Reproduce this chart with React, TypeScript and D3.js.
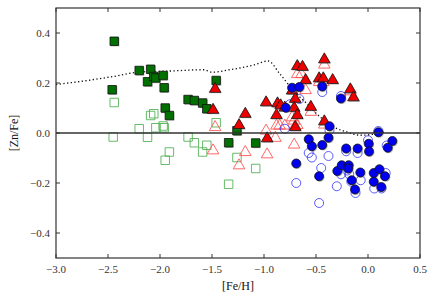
import * as d3 from 'd3';

// [Fe/H], [Zn/Fe]
const greenFilled: [number, number][] = [
  [-2.44, 0.367], [-2.46, 0.173], [-2.2, 0.25], [-2.09, 0.255], [-2.12, 0.205],
  [-2.06, 0.226], [-2.04, 0.22], [-1.97, 0.23], [-1.96, 0.181], [-1.95, 0.1],
  [-1.91, 0.07], [-1.73, 0.134], [-1.67, 0.13], [-1.59, 0.12], [-1.55, 0.097],
  [-1.46, 0.21], [-1.34, -0.039], [-1.26, 0.009], [-1.08, -0.04],
];
const greenOpen: [number, number][] = [
  [-2.44, 0.122], [-2.45, -0.016], [-2.2, 0.017], [-2.12, -0.017], [-2.09, 0.07],
  [-2.06, 0.077], [-2.04, 0.021], [-1.97, 0.028], [-1.96, 0.021], [-1.95, -0.109],
  [-1.91, -0.076], [-1.73, -0.016], [-1.67, -0.039], [-1.59, -0.076], [-1.55, -0.049],
  [-1.46, 0.041], [-1.34, -0.205], [-1.26, -0.098], [-1.08, -0.142],
];
const redFilled: [number, number][] = [
  [-1.47, 0.18], [-1.49, 0.096], [-1.24, 0.035], [-1.18, 0.08], [-0.98, 0.126],
  [-0.97, -0.018], [-0.88, 0.075], [-0.87, 0.122], [-0.84, 0.114], [-0.8, 0.105],
  [-0.73, 0.173], [-0.7, 0.14], [-0.71, 0.104], [-0.7, 0.027], [-0.68, 0.075],
  [-0.68, 0.271], [-0.63, 0.268], [-0.6, 0.215], [-0.47, 0.222], [-0.43, 0.222],
  [-0.42, 0.298], [-0.34, 0.215], [-0.42, 0.05], [-0.55, 0.108], [-0.17, 0.178],
  [-0.14, 0.146],
];
const redOpen: [number, number][] = [
  [-1.47, 0.027], [-1.49, -0.066], [-1.24, -0.126], [-1.18, -0.073], [-0.98, 0.013],
  [-0.97, -0.082], [-0.89, -0.016], [-0.88, 0.033], [-0.85, 0.033], [-0.8, 0.033],
  [-0.73, 0.066], [-0.71, 0.053], [-0.7, 0.031], [-0.71, -0.043], [-0.68, 0.035],
  [-0.68, 0.239], [-0.64, 0.239], [-0.6, 0.175], [-0.47, 0.207], [-0.43, 0.207],
  [-0.42, 0.277], [-0.42, 0.037], [-0.55, 0.088], [-0.17, 0.17],
];
const blueFilled: [number, number][] = [
  [-0.73, 0.181], [-0.66, 0.184], [-0.79, 0.101], [-0.44, 0.186], [-0.26, 0.138],
  [0.1, 0.003], [-0.37, 0.027], [-0.38, -0.019], [-0.57, -0.025], [-0.54, -0.053],
  [-0.44, -0.048], [-0.69, -0.122], [-0.47, -0.173], [-0.295, -0.152], [-0.253, -0.129],
  [-0.186, -0.129], [-0.19, -0.142], [-0.157, -0.189], [-0.125, -0.226], [-0.074, -0.158],
  [-0.1, -0.062], [-0.21, -0.062], [0.007, -0.043], [0.01, -0.074], [0.055, -0.16],
  [0.055, -0.195], [0.11, -0.145], [0.128, -0.216], [0.163, -0.173], [0.19, -0.059],
  [0.234, -0.032],
];
const blueOpen: [number, number][] = [
  [-0.8, 0.017], [-0.75, 0.115], [-0.66, 0.136], [-0.44, 0.164], [-0.26, 0.148],
  [-0.37, 0.011], [0.1, 0.008], [-0.57, -0.08], [-0.54, -0.098], [-0.45, -0.14],
  [-0.38, -0.092], [-0.69, -0.2], [-0.47, -0.28], [-0.3, -0.213], [-0.26, -0.165],
  [-0.2, -0.15], [-0.18, -0.165], [-0.16, -0.195], [-0.12, -0.24], [-0.07, -0.189],
  [-0.1, -0.08], [-0.21, -0.073], [0.0, -0.029], [0.06, -0.222], [0.13, -0.222],
  [0.17, -0.16], [0.18, -0.05],
];
const model: [number, number][] = [
  [-3.0, 0.194], [-2.7, 0.21], [-2.45, 0.226], [-2.19, 0.244], [-1.9, 0.248],
  [-1.58, 0.253], [-1.5, 0.243], [-1.33, 0.253], [-1.23, 0.26], [-1.1, 0.272],
  [-0.96, 0.288], [-0.85, 0.238], [-0.72, 0.171], [-0.59, 0.118], [-0.46, 0.064],
  [-0.33, 0.024], [-0.2, 0.004], [-0.08, -0.009], [0.08, -0.003], [0.16, 0.004],
];
const xTicks = [-3.0, -2.5, -2.0, -1.5, -1.0, -0.5, 0.0, 0.5];
const yTicks = [-0.4, -0.2, 0.0, 0.2, 0.4];

const width = 436;
const height = 300;
const margin = { top: 8, right: 16, bottom: 42, left: 56 };
const font = 'Liberation Serif';

const fmt = (v: number) => (v < 0 ? '\u2212' : '') + Math.abs(v).toFixed(1);

export default function App() {
  const x = d3.scaleLinear().domain([-3, 0.5]).range([margin.left, width - margin.right]);
  const y = d3.scaleLinear().domain([-0.5, 0.5]).range([height - margin.bottom, margin.top]);
  const line = d3.line<[number, number]>().x((d) => x(d[0])).y((d) => y(d[1])).curve(d3.curveMonotoneX);
  const sq = d3.symbol(d3.symbolSquare, 72)();
  const tri = d3.symbol(d3.symbolTriangle, 58)();
  const r = 4.5;

  const x0 = margin.left;
  const x1 = width - margin.right;
  const y0 = height - margin.bottom;
  const y1 = margin.top;

  return (
    <svg width={width} height={height} style={{ position: 'absolute', left: 0, top: 0 }}>
      <rect x={0} y={0} width={width} height={height} fill="white" />

      {/* open symbols */}
      {greenOpen.map((d, i) => (
        <path key={'go' + i} d={sq} transform={`translate(${x(d[0])},${y(d[1])})`}
          fill="none" stroke="#4caf50" strokeOpacity={0.85} strokeWidth={1} />
      ))}
      {redOpen.map((d, i) => (
        <path key={'ro' + i} d={tri} transform={`translate(${x(d[0])},${y(d[1]) + 1})`}
          fill="none" stroke="#ff4d4d" strokeOpacity={0.85} strokeWidth={1} />
      ))}
      {blueOpen.map((d, i) => (
        <circle key={'bo' + i} cx={x(d[0])} cy={y(d[1])} r={r}
          fill="none" stroke="#3333ff" strokeOpacity={0.8} strokeWidth={1} />
      ))}

      {/* model curve */}
      <path d={line(model) ?? ''} fill="none" stroke="#111" strokeWidth={1.3} strokeDasharray="1.3,2.4" />

      {/* filled symbols, with a faint shadow */}
      {greenFilled.map((d, i) => (
        <g key={'gf' + i} transform={`translate(${x(d[0])},${y(d[1])})`}>
          <path d={sq} transform="translate(1,1)" fill="#888" opacity={0.5} />
          <path d={sq} fill="#007000" stroke="#111" strokeWidth={0.8} />
        </g>
      ))}
      {redFilled.map((d, i) => (
        <g key={'rf' + i} transform={`translate(${x(d[0])},${y(d[1]) + 1})`}>
          <path d={tri} transform="translate(1,1)" fill="#888" opacity={0.5} />
          <path d={tri} fill="#ee0000" stroke="#111" strokeWidth={0.8} />
        </g>
      ))}
      {blueFilled.map((d, i) => (
        <g key={'bf' + i}>
          <circle cx={x(d[0]) + 1} cy={y(d[1]) + 1} r={r} fill="#888" opacity={0.5} />
          <circle cx={x(d[0])} cy={y(d[1])} r={r} fill="#0000ee" stroke="#111" strokeWidth={0.8} />
        </g>
      ))}

      {/* zero line */}
      <line x1={x0} x2={x1} y1={y(0)} y2={y(0)} stroke="#333" strokeWidth={1.5} />

      {/* frame */}
      <rect x={x0} y={y1} width={x1 - x0} height={y0 - y1} fill="none" stroke="#333" strokeWidth={1.2} />

      {xTicks.map((t) => (
        <g key={'xt' + t}>
          <line x1={x(t)} x2={x(t)} y1={y0} y2={y0 - 4} stroke="#333" />
          <line x1={x(t)} x2={x(t)} y1={y1} y2={y1 + 4} stroke="#333" />
          <text x={x(t)} y={y0 + 15} textAnchor="middle" fontFamily={font} fontSize={11} fill="#333">
            {fmt(t)}
          </text>
        </g>
      ))}
      {yTicks.map((t) => (
        <g key={'yt' + t}>
          <line x1={x0} x2={x0 + 4} y1={y(t)} y2={y(t)} stroke="#333" />
          <line x1={x1} x2={x1 - 4} y1={y(t)} y2={y(t)} stroke="#333" />
          <text x={x0 - 6} y={y(t) + 3.5} textAnchor="end" fontFamily={font} fontSize={11} fill="#333">
            {fmt(t)}
          </text>
        </g>
      ))}

      <text x={(x0 + x1) / 2} y={height - 10} textAnchor="middle" fontFamily={font} fontSize={12} fill="#111">
        [Fe/H]
      </text>
      <text transform={`translate(18,${(y0 + y1) / 2}) rotate(-90)`} textAnchor="middle"
        fontFamily={font} fontSize={12} fill="#111">
        [Zn/Fe]
      </text>
    </svg>
  );
}
